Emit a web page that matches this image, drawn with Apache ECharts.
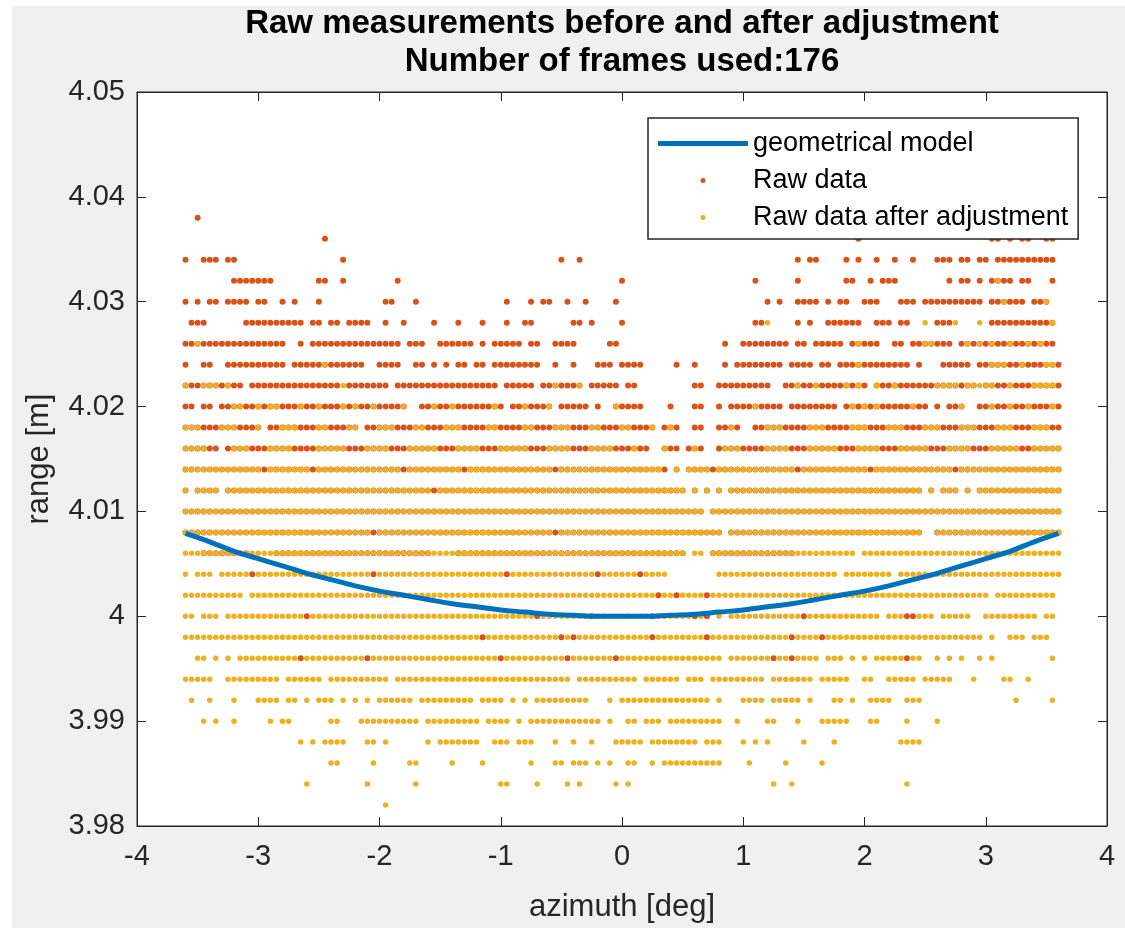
<!DOCTYPE html>
<html>
<head>
<meta charset="utf-8">
<script src="https://cdn.jsdelivr.net/npm/echarts@6/dist/echarts.min.js"></script>
<style>
  html, body { margin: 0; padding: 0; background: #ffffff; }
  #fig { position: absolute; left: 12px; top: 6px; width: 1113px; height: 922px; background: #f0f0f0; }
  #chart { position: absolute; left: 0; top: 0; width: 1125px; height: 928px; }
</style>
</head>
<body>
<div id="fig"></div>
<div id="chart"></div>
<script>
// Scanner azimuth grid: bin i sits at AZ_START + i * AZ_STEP degrees
const AZ_START = -3.6;
const AZ_STEP = 0.05;

// Quantised range levels (m), top to bottom
const rangeLevels = [
  4.038, 4.036, 4.034, 4.032, 4.030, 4.028, 4.026, 4.024, 4.022, 4.020,
  4.018, 4.016, 4.014, 4.012, 4.010, 4.008, 4.006, 4.004, 4.002, 4.000,
  3.998, 3.996, 3.994, 3.992, 3.990, 3.988, 3.986, 3.984, 3.982
];

// Azimuth bins holding a raw return, per range level ("a-b" = bins a..b)
const rawBins = [
  "2",
  "23,111,133-134,136,138-139,142-143",
  "0,3-5,7-8,26,62,65,101,103-104,109,111,114,117,120,124-126,128-129,131-132,134-143",
  "8-14,22-23,26,35,72,94,101,109-110,113,115-117,126,128-129,131,133-136,138-139,143",
  "0,2,4-5,7-10,12-13,16,18,22,33-34,38,53,57,59-60,63,66,71,96,98,101-104,106,108-109,112-114,118-120,122-131,133-138,140-142",
  "1-3,10-19,21-22,24-25,27-30,33,36,41,45,49,53,56-57,64-65,67,72,94-95,101,103,106-111,114-116,118-119,124-126,133-143",
  "0-16,19,21-35,37-39,42-47,49,51-55,57-58,61-64,70-71,89,92-99,101-102,104-108,110-114,117-118,120-126,128-143",
  "0,3-4,7-16,18-29,32-35,38-39,41,43,45-46,48-49,51-58,61,64,68-70,72-75,81,84,89,91-98,100-103,105-106,108-119,121,125-129,131-144",
  "0-9,11-25,27-33,35-51,53-57,59-65,67-71,73-74,84-85,88-96,99-112,114-130,132-144",
  "0-1,3-4,6-36,39-52,54-60,62-66,68,71-75,80,84-85,88,90-98,100-107,109-122,124,126-128,131-144",
  "0-12,14-28,30-77,79-81,84-85,88-91,94-144",
  "0-5,7-76,79-81,83-85,88-144",
  "0-79,81,83-144",
  "0,2-5,7-82,84,86,88,90-121,123,125-127,129,131-144",
  "0-85,87-144",
  "0-88,90-121,124-144",
  "3-10,15-40,45-82,87-100",
  "11,31,53,68,75",
  "78,81,86",
  "20,58,67,77,84,86,102,119-120",
  "49,62,64,77,86,100,105",
  "19,30,52,63,71,97,100,119",
  "", "", "", "", "", "", ""
];

// Azimuth bins holding an adjusted return, per range level
const adjustedBins = [
  "", "", "",
  "134",
  "135,142",
  "96,122,127,131,143",
  "2,111,122-123,129,131,133,136,139,141",
  "23,111,133-135,138,142-143",
  "0,3-5,7,26,61,65,101,104,109,111,114,117,124-127,129-133,136,140-143",
  "8-9,12,14-15,19,22,26,28,31,36,41,44,51,56,60,71,94,110,112,114,120,128,133,136,139,143",
  "0-2,6-8,12,16-18,22-23,27-28,32-34,38-39,43-45,50-51,56-57,61-63,67-68,72-73,77,80,90,96-98,103-105,110-112,116-118,122-124,128-130,134-136,140-142",
  "0-3,8-10,14-17,22-26,30-33,37-41,45-48,52-56,60-63,67-70,74,79,84,89-91,96-99,103-107,111-114,118-122,126-129,133-137,140-144",
  "0-12,14-20,22-35,37-45,47-60,62-78,81,83-86,88-100,102-112,114-126,128-144",
  "0,2-5,7-40,42-82,84,86,88,90-121,123,125-127,129,131-144",
  "0-85,87-144",
  "0-30,32-60,62-88,90-121,124-144",
  "0-82,84-85,87-110,112-144",
  "0,2-4,6-10,12-30,32-52,54-67,69-74,76-79,88-107,109-116,118-122,124-144",
  "0-9,11-77,79-80,82-85,87,88-132,134-143",
  "0-1,3-5,7-19,21-57,59-66,68-76,78-83,85,88,90-101,103-114,116-118,121-123,125-129,132-140,142-143",
  "0-48,50-61,63,65-76,78-85,87-99,101-104,106-131,133,136-138,140-142",
  "2-3,5,7,9-18,20-29,31-51,53-62,64-70,72-88,90-96,98-99,101-104,106-108,110,112,114-118,120-121,124,126,128,131,133,143",
  "0-4,7-15,17-22,24-33,35-63,65-74,76-81,83-85,87-95,97-103,105-109,112-113,116-120,122-126,130,135-136,139",
  "1,4,8,12-15,17-18,20,22-24,26,28,30,32-37,39-47,49-52,54,56,58-66,70,72-86,88,92-95,97-101,103,107-108,110,113-116,119-121,137,143",
  "3,5,8,14,16-17,24-25,29-38,40-48,50-53,55,57-68,70,73-74,76-78,80-88,91,96-97,101,105-109,113-114,119,124",
  "19,21,23-26,30-31,33,40,42-48,51-53,55-57,61,64,67,71-75,77-84,86-88,92,94,96,102,107,118-121",
  "24-25,31,37-38,44,49,57,61-62,64-66,68,70,73-74,77,79-88,93,99,105",
  "20,30,38,52-53,58,63,65,71,73,97,100,119",
  "33"
];

// Geometrical model of the flat target: azimuth (deg) and expected range (m)
const modelAzimuth = [
  -3.6, -3.4, -3.2, -3.0, -2.8, -2.6, -2.4, -2.2, -2.0, -1.8, -1.6, -1.4, -1.2, -1.0, -0.8, -0.6, -0.4, -0.2,
  0.0, 0.2, 0.4, 0.6, 0.8, 1.0, 1.2, 1.4, 1.6, 1.8, 2.0, 2.2, 2.4, 2.6, 2.8, 3.0, 3.2, 3.4, 3.6
];
const modelRange = [
  4.0079, 4.0071, 4.0062, 4.0055, 4.0048, 4.0041, 4.0035, 4.0029, 4.0024, 4.0020, 4.0016, 4.0012, 4.0009, 4.0006, 4.0004, 4.0002, 4.0001, 4.0000,
  4.0000, 4.0000, 4.0001, 4.0002, 4.0004, 4.0006, 4.0009, 4.0012, 4.0016, 4.0020, 4.0024, 4.0029, 4.0035, 4.0041, 4.0048, 4.0055, 4.0062, 4.0071, 4.0079
];

const titleLines = ['Raw measurements before and after adjustment', 'Number of frames used:176'];

function expandBins(spec) {
  const bins = [];
  if (!spec) return bins;
  spec.split(',').forEach(tok => {
    const parts = tok.split('-').map(Number);
    const last = parts.length > 1 ? parts[1] : parts[0];
    for (let i = parts[0]; i <= last; i++) bins.push(i);
  });
  return bins;
}

function toPoints(binSpecs) {
  const pts = [];
  rangeLevels.forEach((r, k) => {
    expandBins(binSpecs[k]).forEach(i => {
      pts.push([+(AZ_START + i * AZ_STEP).toFixed(3), r]);
    });
  });
  return pts;
}

const rawPoints = toPoints(rawBins);
const adjustedPoints = toPoints(adjustedBins);
const modelPoints = modelAzimuth.map((a, i) => [a, modelRange[i]]);

const FONT = '"Liberation Sans", Arial, Helvetica, sans-serif';
const AXIS_COLOR = '#262626';

const chart = echarts.init(document.getElementById('chart'), null, { renderer: 'canvas' });

const fmt = v => String(parseFloat(v.toFixed(3)));

chart.setOption({
  backgroundColor: 'transparent',
  animation: false,
  textStyle: { fontFamily: FONT },
  title: {
    text: titleLines.join('\n'),
    left: 622,
    top: 5,
    padding: 0,
    textAlign: 'center',
    textStyle: { fontFamily: FONT, fontSize: 33, fontWeight: 'bold', color: '#000', lineHeight: 38 }
  },
  grid: {
    left: 137, top: 92, width: 970, height: 739,
    show: true, backgroundColor: '#ffffff', borderColor: AXIS_COLOR, borderWidth: 1
  },
  legend: {
    orient: 'vertical',
    left: 648, top: 118,
    padding: [12, 10, 8, 10],
    itemWidth: 90, itemHeight: 5, itemGap: 10,
    backgroundColor: '#ffffff', borderColor: AXIS_COLOR, borderWidth: 1.5, borderRadius: 0,
    textStyle: { fontFamily: FONT, fontSize: 27, color: '#000' },
    data: [
      { name: 'geometrical model', icon: 'rect' },
      { name: 'Raw data', icon: 'circle' },
      { name: 'Raw data after adjustment', icon: 'circle' }
    ]
  },
  xAxis: [{
    type: 'value', min: -4, max: 4, interval: 1,
    name: 'azimuth [deg]', nameLocation: 'middle', nameGap: 66,
    nameTextStyle: { fontFamily: FONT, fontSize: 31, color: AXIS_COLOR },
    axisLine: { show: true, onZero: false, lineStyle: { color: AXIS_COLOR, width: 1 } },
    axisTick: { show: true, inside: true, length: 9, lineStyle: { color: AXIS_COLOR } },
    axisLabel: { fontFamily: FONT, fontSize: 29, color: AXIS_COLOR, margin: 16, formatter: fmt },
    splitLine: { show: false }
  }, {
    type: 'value', min: -4, max: 4, interval: 1, position: 'top',
    axisLine: { show: true, onZero: false, lineStyle: { color: AXIS_COLOR, width: 1 } },
    axisTick: { show: true, inside: true, length: 9, lineStyle: { color: AXIS_COLOR } },
    axisLabel: { show: false }, splitLine: { show: false }
  }],
  yAxis: [{
    type: 'value', min: 3.98, max: 4.05, interval: 0.01,
    name: 'range [m]', nameLocation: 'middle', nameGap: 82,
    nameTextStyle: { fontFamily: FONT, fontSize: 31, color: AXIS_COLOR },
    axisLine: { show: true, onZero: false, lineStyle: { color: AXIS_COLOR, width: 1 } },
    axisTick: { show: true, inside: true, length: 9, lineStyle: { color: AXIS_COLOR } },
    axisLabel: { fontFamily: FONT, fontSize: 29, color: AXIS_COLOR, margin: 12, formatter: fmt },
    splitLine: { show: false }
  }, {
    type: 'value', min: 3.98, max: 4.05, interval: 0.01, position: 'right',
    axisLine: { show: true, onZero: false, lineStyle: { color: AXIS_COLOR, width: 1 } },
    axisTick: { show: true, inside: true, length: 9, lineStyle: { color: AXIS_COLOR } },
    axisLabel: { show: false }, splitLine: { show: false }
  }],
  series: [{
    name: 'geometrical model',
    type: 'line',
    data: modelPoints,
    xAxisIndex: 0, yAxisIndex: 0,
    smooth: 0.4,
    symbol: 'none',
    z: 5,
    color: '#0072BD',
    lineStyle: { color: '#0072BD', width: 5 }
  }, {
    name: 'Raw data',
    type: 'scatter',
    data: rawPoints,
    xAxisIndex: 0, yAxisIndex: 0,
    symbol: 'circle', symbolSize: 6,
    z: 2,
    color: '#D95319',
    itemStyle: { color: '#D95319', opacity: 1 }
  }, {
    name: 'Raw data after adjustment',
    type: 'scatter',
    data: adjustedPoints,
    xAxisIndex: 0, yAxisIndex: 0,
    symbol: 'circle', symbolSize: 5.5,
    z: 3,
    color: '#EDB120',
    itemStyle: { color: '#EDB120', opacity: 1 }
  }]
});
</script>
</body>
</html>
